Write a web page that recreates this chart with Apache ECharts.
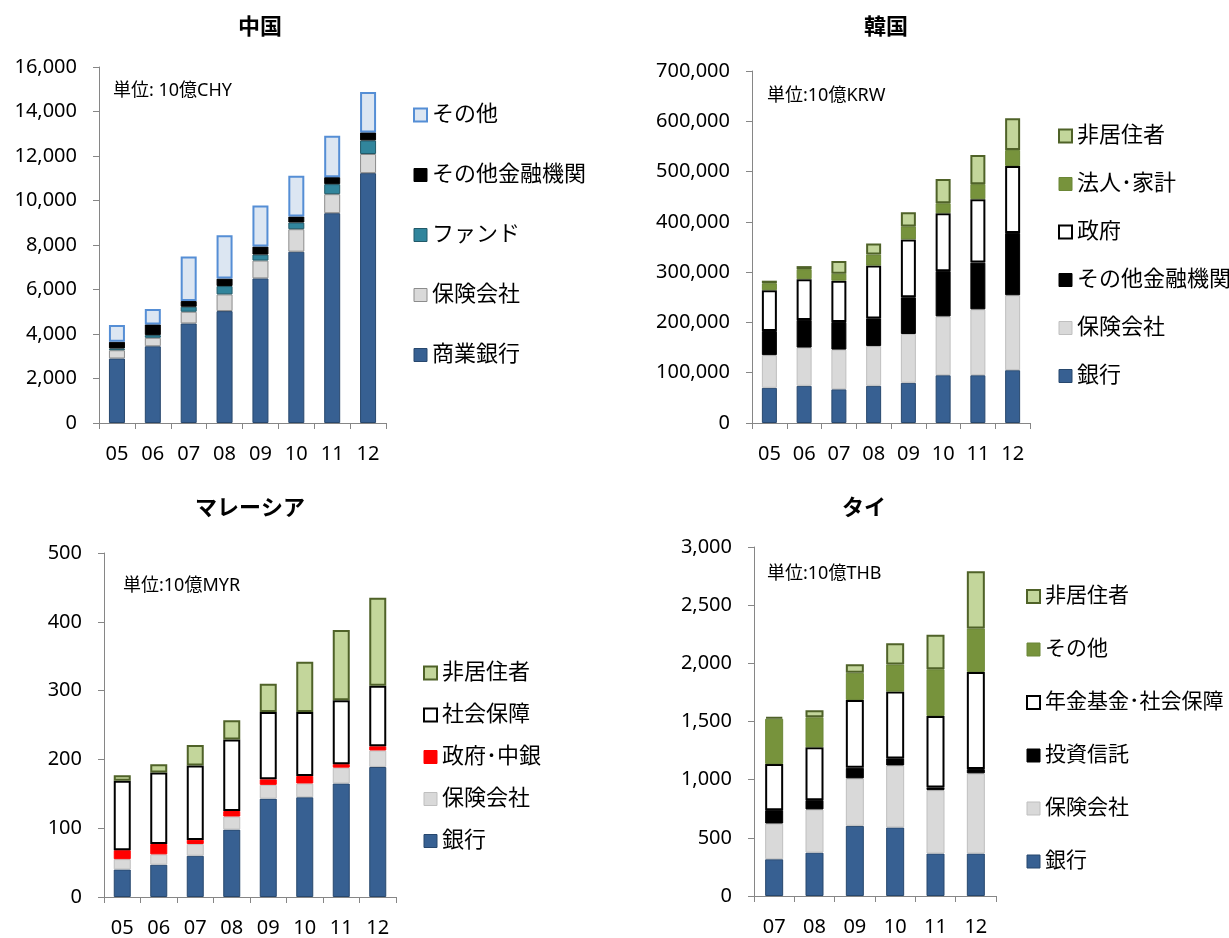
<!DOCTYPE html>
<html>
<head>
<meta charset="utf-8">
<script src="https://cdn.jsdelivr.net/npm/echarts@6/dist/echarts.min.js"></script>
<style>
  html, body { margin: 0; padding: 0; background: #fff; }
  #chart { width: 1229px; height: 938px; }
</style>
</head>
<body>
<div id="chart"></div>
<script>
// ---- 中国 (10億CHY) ----
const cnYears = ['05', '06', '07', '08', '09', '10', '11', '12'];
const cnBank = [2900, 3450, 4475, 5030, 6500, 7700, 9430, 11230];
const cnInsurance = [370, 380, 525, 750, 800, 1010, 855, 860];
const cnFund = [80, 120, 225, 375, 270, 300, 450, 610];
const cnOtherFin = [300, 480, 255, 335, 360, 270, 315, 360];
const cnOther = [750, 690, 2000, 1950, 1845, 1830, 1860, 1820];

// ---- 韓国 (10億KRW) ----
const krYears = ['05', '06', '07', '08', '09', '10', '11', '12'];
const krBank = [70000, 74000, 67000, 74000, 80000, 95000, 95000, 105000];
const krInsurance = [65000, 76000, 79000, 79000, 97000, 117000, 131000, 149000];
const krOtherFin = [48000, 55000, 55000, 55000, 73000, 90000, 93000, 124000];
const krGov = [81000, 81000, 82000, 105000, 115000, 115000, 126000, 133000];
const krCorp = [14000, 20000, 14000, 22000, 26000, 20000, 30000, 32000];
const krNonRes = [5000, 6000, 25000, 22000, 28000, 48000, 58000, 63000];

// ---- マレーシア (10億MYR) ----
const myYears = ['05', '06', '07', '08', '09', '10', '11', '12'];
const myBank = [40, 47, 60, 98, 143, 145, 165, 189];
const myInsurance = [15, 15, 17, 19, 20, 20, 23, 24];
const myGovCB = [13, 15, 6, 8, 8, 11, 5, 6];
const mySocial = [101, 104, 108, 104, 98, 93, 93, 88];
const myNonRes = [8, 12, 30, 28, 41, 73, 102, 128];

// ---- タイ (10億THB) ----
const thYears = ['07', '08', '09', '10', '11', '12'];
const thBank = [316, 373, 603, 589, 365, 365];
const thInsurance = [307, 371, 408, 533, 545, 689];
const thFundTrust = [115, 80, 91, 61, 23, 37];
const thPension = [396, 454, 583, 574, 614, 835];
const thOther = [390, 258, 233, 233, 402, 374];
const thNonRes = [15, 60, 74, 183, 296, 491];

const FONT = "'Noto Sans', 'Noto Sans CJK JP', sans-serif";
const AXIS_GRAY = '#868686';

// bar fill / outline styles
const S = {
  bank:    { color: '#376092', borderColor: '#27476d', borderWidth: 1 },
  insCn:   { color: '#D9D9D9', borderColor: '#8c8c8c', borderWidth: 1 },
  ins:     { color: '#D9D9D9', borderColor: '#BFBFBF', borderWidth: 1 },
  fund:    { color: '#31859C', borderColor: '#215968', borderWidth: 1 },
  black:   { color: '#000000', borderColor: '#000000', borderWidth: 1 },
  cnOther: { color: '#DCE6F2', borderColor: '#558ED5', borderWidth: 2 },
  white:   { color: '#FFFFFF', borderColor: '#000000', borderWidth: 2 },
  green:   { color: '#77933C', borderColor: '#6b8636', borderWidth: 1 },
  lgreen:  { color: '#C3D69B', borderColor: '#4F6228', borderWidth: 2 },
  red:     { color: '#FF0000', borderColor: '#FF0000', borderWidth: 1 }
};

const grids = [], xAxes = [], yAxes = [], series = [], legends = [], texts = [];

function addPanel(p) {
  const gi = grids.length;
  grids.push({ left: p.grid[0], top: p.grid[1], width: p.grid[2], height: p.grid[3], containLabel: false });
  xAxes.push({
    type: 'category', gridIndex: gi, data: p.years,
    axisLine: { lineStyle: { color: AXIS_GRAY, width: 1 } },
    axisTick: { show: true, length: 6, lineStyle: { color: AXIS_GRAY } },
    axisLabel: { margin: 21, fontSize: 20, color: '#000', fontFamily: FONT }
  });
  yAxes.push({
    type: 'value', gridIndex: gi, min: 0, max: p.max, interval: p.interval,
    splitLine: { show: false },
    axisLine: { show: true, lineStyle: { color: AXIS_GRAY, width: 1 } },
    axisTick: { show: true, length: 6, lineStyle: { color: AXIS_GRAY } },
    axisLabel: {
      margin: 22, fontSize: 20, color: '#000', fontFamily: FONT,
      formatter: v => v.toLocaleString('en-US')
    }
  });
  p.series.forEach(s => {
    series.push({
      type: 'bar', name: s.name, stack: 'st' + gi, data: s.data,
      xAxisIndex: gi, yAxisIndex: gi, barWidth: p.barWidth,
      itemStyle: s.style, emphasis: { disabled: true }
    });
  });
  const lf = p.legend[3];
  legends.push({
    orient: 'vertical', left: p.legend[0], top: p.legend[1],
    itemGap: p.legend[2] + (22 - lf), itemWidth: 13, itemHeight: 13, icon: 'rect',
    selectedMode: false,
    textStyle: { fontSize: lf, lineHeight: lf, color: '#000', fontFamily: FONT },
    data: p.series.slice().reverse().map(s => ({ name: s.name, itemStyle: s.style }))
  });
  texts.push({
    type: 'text', x: p.title[0], y: p.title[1],
    style: { text: p.title[2], fontSize: 22, fontWeight: 'bold', fontFamily: FONT,
             fill: '#000', align: 'center', verticalAlign: 'middle' }
  });
  texts.push({
    type: 'text', x: p.unit[0], y: p.unit[1],
    style: { text: p.unit[2], fontSize: 18, fontFamily: FONT,
             fill: '#000', align: 'left', verticalAlign: 'middle' }
  });
}

addPanel({
  grid: [99, 67, 287, 356], years: cnYears, max: 16000, interval: 2000, barWidth: 16,
  title: [260, 28, '中国'], unit: [113, 91, '単位: 10億CHY'],
  legend: [408, 99, 38, 22],
  series: [
    { name: '商業銀行', data: cnBank, style: S.bank },
    { name: '保険会社', data: cnInsurance, style: S.insCn },
    { name: 'ファンド', data: cnFund, style: S.fund },
    { name: 'その他金融機関', data: cnOtherFin, style: S.black },
    { name: 'その他', data: cnOther, style: S.cnOther }
  ]
});

addPanel({
  grid: [752, 71, 278, 352], years: krYears, max: 700000, interval: 100000, barWidth: 15,
  title: [886, 28, '韓国'], unit: [767, 96, '単位:10億KRW'],
  legend: [1053, 120, 26, 22],
  series: [
    { name: '銀行', data: krBank, style: S.bank },
    { name: '保険会社', data: krInsurance, style: S.ins },
    { name: 'その他金融機関', data: krOtherFin, style: S.black },
    { name: '政府', data: krGov, style: S.white },
    { name: '法人･家計', data: krCorp, style: S.green },
    { name: '非居住者', data: krNonRes, style: S.lgreen }
  ]
});

addPanel({
  grid: [104, 553, 292, 349], years: myYears, max: 500, interval: 100, barWidth: 17,
  title: [250, 509, 'マレーシア'], unit: [123, 586, '単位:10億MYR'],
  legend: [418, 657, 20, 22],
  series: [
    { name: '銀行', data: myBank, style: S.bank },
    { name: '保険会社', data: myInsurance, style: S.ins },
    { name: '政府･中銀', data: myGovCB, style: S.red },
    { name: '社会保障', data: mySocial, style: S.white },
    { name: '非居住者', data: myNonRes, style: S.lgreen }
  ]
});

addPanel({
  grid: [754, 547, 242, 349], years: thYears, max: 3000, interval: 500, barWidth: 18,
  title: [864, 509, 'タイ'], unit: [767, 574, '単位:10億THB'],
  legend: [1021, 581, 31, 21],
  series: [
    { name: '銀行', data: thBank, style: S.bank },
    { name: '保険会社', data: thInsurance, style: S.ins },
    { name: '投資信託', data: thFundTrust, style: S.black },
    { name: '年金基金･社会保障', data: thPension, style: S.white },
    { name: 'その他', data: thOther, style: S.green },
    { name: '非居住者', data: thNonRes, style: S.lgreen }
  ]
});

const chart = echarts.init(document.getElementById('chart'), null, { renderer: 'canvas' });
chart.setOption({
  animation: false,
  backgroundColor: '#fff',
  textStyle: { fontFamily: FONT },
  grid: grids,
  xAxis: xAxes,
  yAxis: yAxes,
  legend: legends,
  series: series,
  graphic: texts
});
</script>
</body>
</html>
